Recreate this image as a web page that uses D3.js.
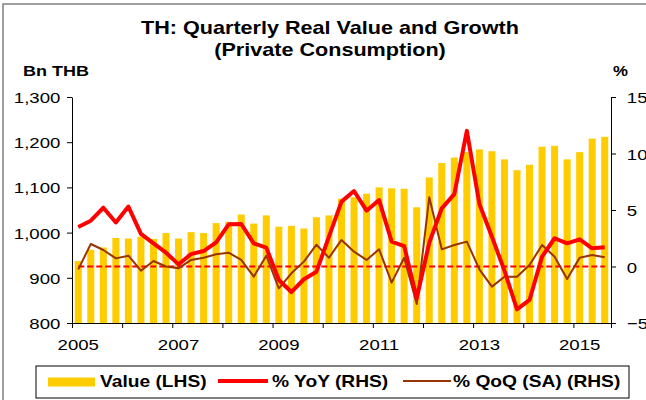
<!DOCTYPE html>
<html>
<head>
<meta charset="utf-8">
<script src="https://cdn.jsdelivr.net/npm/d3@7"></script>
<style>
  body { margin: 0; background: #fff; }
  text { font-family: "Liberation Sans", Arial, sans-serif; fill: #000; }
</style>
</head>
<body>
<svg id="chart" width="646" height="400"></svg>
<script>
// quarters 2005Q1 .. 2015Q3
var quarters = [
  "2005Q1","2005Q2","2005Q3","2005Q4","2006Q1","2006Q2","2006Q3","2006Q4",
  "2007Q1","2007Q2","2007Q3","2007Q4","2008Q1","2008Q2","2008Q3","2008Q4",
  "2009Q1","2009Q2","2009Q3","2009Q4","2010Q1","2010Q2","2010Q3","2010Q4",
  "2011Q1","2011Q2","2011Q3","2011Q4","2012Q1","2012Q2","2012Q3","2012Q4",
  "2013Q1","2013Q2","2013Q3","2013Q4","2014Q1","2014Q2","2014Q3","2014Q4",
  "2015Q1","2015Q2","2015Q3"
];
// Bn THB
var value = [
  937, 962, 967, 988, 987, 991, 986, 999,
  987, 1001, 999, 1021, 1024, 1040, 1020, 1038,
  1013, 1015, 1009, 1034, 1038, 1075, 1078, 1086,
  1100, 1098, 1097, 1056, 1122, 1154, 1166, 1178,
  1184, 1180, 1162, 1138, 1150, 1190, 1192, 1162,
  1178, 1208, 1212
];
// % YoY
var yoy = [
  3.5, 4.05, 5.2, 3.9, 5.3, 2.88, 2.05, 1.22,
  0.19, 1.1, 1.37, 2.14, 3.73, 3.76, 2.05, 1.67,
  -1.19, -2.26, -1.13, -0.46, 2.64, 5.74, 6.68, 4.94,
  5.88, 2.2, 1.81, -2.82, 2.1, 5.15, 6.4, 12.0,
  5.53, 2.64, -0.37, -3.79, -2.96, 0.87, 2.5, 2.05,
  2.4, 1.61, 1.7
];
// % QoQ (SA)
var qoq = [
  -0.25, 1.99, 1.46, 0.72, 0.96, -0.37, 0.49, 0.0,
  -0.16, 0.58, 0.78, 1.08, 1.22, 0.58, -0.9, 0.96,
  -1.93, -0.6, 0.43, 1.93, 0.78, 2.35, 1.31, 0.58,
  1.52, -1.43, 0.78, -3.32, 6.12, 1.52, 1.9, 2.2,
  -0.25, -1.78, -0.9, -0.9, 0.13, 1.9, 0.87, -1.1,
  0.78, 1.02, 0.81
];
var leftTicks = [800, 900, 1000, 1100, 1200, 1300];
var rightTicks = [-5, 0, 5, 10, 15];
var yearLabels = ["2005Q1","2007Q1","2009Q1","2011Q1","2013Q1","2015Q1"];
var yearBounds = [0, 4, 8, 12, 16, 20, 24, 28, 32, 36, 40, 43];

var SX = 1.2; // the original text is a bit wide
function stretch(sel) {
  sel.each(function () {
    var t = d3.select(this);
    var x = +t.attr('x') || 0, y = +t.attr('y') || 0;
    t.attr('x', null).attr('y', null)
      .attr('transform', 'translate(' + x + ',' + y + ') scale(' + SX + ',1)');
  });
}

var svg = d3.select('#chart');
var pL = 72, pR = 611, pT = 97, pB = 323;

// frame
svg.append('rect')
  .attr('x', 3).attr('y', 4).attr('width', 700).attr('height', 440)
  .attr('fill', 'none').attr('stroke', '#808080').attr('stroke-width', 1.5);

var x = d3.scaleBand().domain(quarters).range([pL, pR])
  .paddingInner(0.44).paddingOuter(0.22);
var xi = d3.scaleLinear().domain([0, quarters.length]).range([pL, pR]);
var yL = d3.scaleLinear().domain([800, 1300]).range([pB, pT]);
var yR = d3.scaleLinear().domain([-5, 15]).range([pB, pT]);
var cx = function (i) { return x(quarters[i]) + x.bandwidth() / 2; };

// bars
svg.append('g').selectAll('rect')
  .data(value)
  .enter().append('rect')
  .attr('x', function (d, i) { return x(quarters[i]); })
  .attr('y', function (d) { return yL(d); })
  .attr('width', x.bandwidth())
  .attr('height', function (d) { return pB - yL(d); })
  .attr('fill', '#FFCC00');

// zero line
svg.append('line')
  .attr('x1', cx(0)).attr('x2', cx(quarters.length - 1))
  .attr('y1', yR(0)).attr('y2', yR(0))
  .attr('stroke', '#FF0000').attr('stroke-width', 2)
  .attr('stroke-dasharray', '6,3');

var line = function (arr) {
  return d3.line()
    .x(function (d, i) { return cx(i); })
    .y(function (d) { return yR(d); })(arr);
};

svg.append('path').attr('d', line(qoq))
  .attr('fill', 'none').attr('stroke', '#993300').attr('stroke-width', 2)
  .attr('stroke-linejoin', 'round');
svg.append('path').attr('d', line(yoy))
  .attr('fill', 'none').attr('stroke', '#FF0000').attr('stroke-width', 4)
  .attr('stroke-linejoin', 'round');

// left axis
var gl = svg.append('g').attr('transform', 'translate(' + pL + ',0)')
  .call(d3.axisLeft(yL).tickValues(leftTicks).tickSize(5).tickSizeOuter(0)
    .tickFormat(d3.format(',')));
gl.selectAll('text').attr('x', -14 / SX).attr('y', 5.5).attr('dy', null)
  .style('font-size', '15.5px');
stretch(gl.selectAll('text'));

// right axis
var gr = svg.append('g').attr('transform', 'translate(' + pR + ',0)')
  .call(d3.axisRight(yR).tickValues(rightTicks).tickSize(5).tickSizeOuter(0));
gr.selectAll('text').attr('x', 19 / SX).attr('y', 5.5).attr('dy', null)
  .style('font-size', '15.5px');
stretch(gr.selectAll('text'));

// x axis ticks at year boundaries
var gx = svg.append('g').attr('transform', 'translate(0,' + pB + ')')
  .call(d3.axisBottom(xi).tickValues(yearBounds).tickSize(5).tickSizeOuter(0)
    .tickFormat(''));
// x labels under first quarter of every other year
var gxl = svg.append('g').attr('transform', 'translate(0,' + pB + ')')
  .call(d3.axisBottom(x).tickValues(yearLabels).tickSize(0)
    .tickFormat(function (d) { return d.slice(0, 4); }));
gxl.select('.domain').remove();
gxl.selectAll('text').attr('y', 27).attr('dy', null).style('font-size', '15.5px');
stretch(gxl.selectAll('text'));

svg.selectAll('.domain, .tick line').attr('stroke', '#000');
svg.selectAll('.tick text').attr('font-family', null);

// titles
var titles = svg.append('g');
titles.append('text').attr('x', 330).attr('y', 34).attr('text-anchor', 'middle')
  .style('font-size', '18px').style('font-weight', 'bold')
  .text('TH: Quarterly Real Value and Growth');
titles.append('text').attr('x', 330).attr('y', 56).attr('text-anchor', 'middle')
  .style('font-size', '18px').style('font-weight', 'bold')
  .text('(Private Consumption)');
titles.append('text').attr('x', 23).attr('y', 76)
  .style('font-size', '15px').style('font-weight', 'bold').text('Bn THB');
titles.append('text').attr('x', 613).attr('y', 76)
  .style('font-size', '14px').style('font-weight', 'bold').text('%');
stretch(titles.selectAll('text'));

// legend
var lg = svg.append('g');
lg.append('rect').attr('x', 36).attr('y', 366).attr('width', 593).attr('height', 32)
  .attr('fill', '#fff').attr('stroke', '#000').attr('stroke-width', 1);
lg.append('rect').attr('x', 48).attr('y', 377.5).attr('width', 47).attr('height', 9)
  .attr('fill', '#FFCC00');
lg.append('line').attr('x1', 218).attr('x2', 268).attr('y1', 381).attr('y2', 381)
  .attr('stroke', '#FF0000').attr('stroke-width', 4);
lg.append('line').attr('x1', 403).attr('x2', 451).attr('y1', 381).attr('y2', 381)
  .attr('stroke', '#993300').attr('stroke-width', 2);
var legendText = [[100, 'Value (LHS)'], [272, '% YoY (RHS)'], [453, '% QoQ (SA) (RHS)']];
lg.selectAll('text.lab').data(legendText).enter().append('text').classed('lab', true)
  .attr('x', function (d) { return d[0]; }).attr('y', 387)
  .style('font-size', '16px').style('font-weight', 'bold')
  .text(function (d) { return d[1]; });
stretch(lg.selectAll('text.lab'));
</script>
</body>
</html>
